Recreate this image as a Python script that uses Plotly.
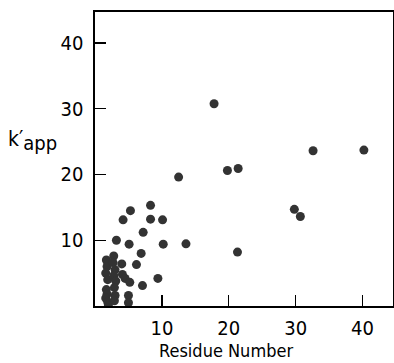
import plotly.graph_objects as go

residue = [17.8, 32.6, 40.2, 12.5, 19.8, 21.4, 8.3, 5.3, 4.2, 8.3, 10.1, 29.8, 30.7,
           7.2, 3.2, 5.1, 10.2, 13.6, 21.3, 6.9, 6.2, 9.4, 7.1,
           1.7, 1.8, 1.6, 1.9, 1.7, 1.8, 1.6, 1.9, 2.0,
           2.8, 2.7, 3.0, 2.8, 3.1, 2.9, 3.0, 2.9,
           4.0, 4.1, 4.5, 5.2, 5.0, 5.0]
k_app = [30.75, 23.6, 23.7, 19.6, 20.6, 20.9, 15.3, 14.5, 13.1, 13.2, 13.1, 14.7, 13.6,
         11.2, 10.0, 9.4, 9.4, 9.45, 8.2, 8.0, 6.3, 4.2, 3.1,
         7.0, 6.0, 5.0, 4.0, 2.5, 1.8, 1.2, 0.6, 0.2,
         7.6, 6.6, 5.5, 4.6, 3.8, 2.8, 1.6, 0.8,
         6.4, 4.8, 4.2, 3.6, 1.6, 0.5]
ticks = [10, 20, 30, 40]

FONT = "DejaVu Sans Condensed, sans-serif"

fig = go.Figure(go.Scatter(
    x=residue, y=k_app, mode="markers",
    marker=dict(size=9, color="#333333", line=dict(width=0)),
))

axis_common = dict(
    showgrid=False, zeroline=False, showline=True, linecolor="black", linewidth=1.6,
    mirror=True, ticks="inside", ticklen=11, tickwidth=1.4, tickcolor="black",
    tickvals=ticks, ticktext=[str(t) for t in ticks], automargin=False,
    tickfont=dict(family=FONT, size=20, color="black"),
)

fig.update_layout(
    width=394, height=363,
    margin=dict(l=94.5, r=1, t=12, b=57),
    paper_bgcolor="white", plot_bgcolor="white",
    showlegend=False,
    xaxis=dict(range=[0, 44.55], ticklabelstandoff=3, **axis_common),
    yaxis=dict(range=[0, 44.7], ticklabelstandoff=6, **axis_common),
)
# x-axis title (offset left of the plot centre, as in the original)
fig.add_annotation(
    text="Residue Number", xref="paper", yref="paper", x=0.4405, y=-0.150,
    xanchor="center", yanchor="middle", showarrow=False,
    font=dict(family=FONT, size=18, color="black"))
# y-axis title
fig.add_annotation(
    text="k′<sub><span style='font-size:20px'>app</span></sub>",
    xref="paper", yref="paper", x=-0.300, y=0.561,
    xanchor="left", yanchor="middle", showarrow=False,
    font=dict(family=FONT, size=21, color="black"))

fig.write_html(
    "out.html",
    config={"displayModeBar": False, "staticPlot": True},
    post_script="document.body.style.margin='0';document.body.style.overflow='hidden';",
)
